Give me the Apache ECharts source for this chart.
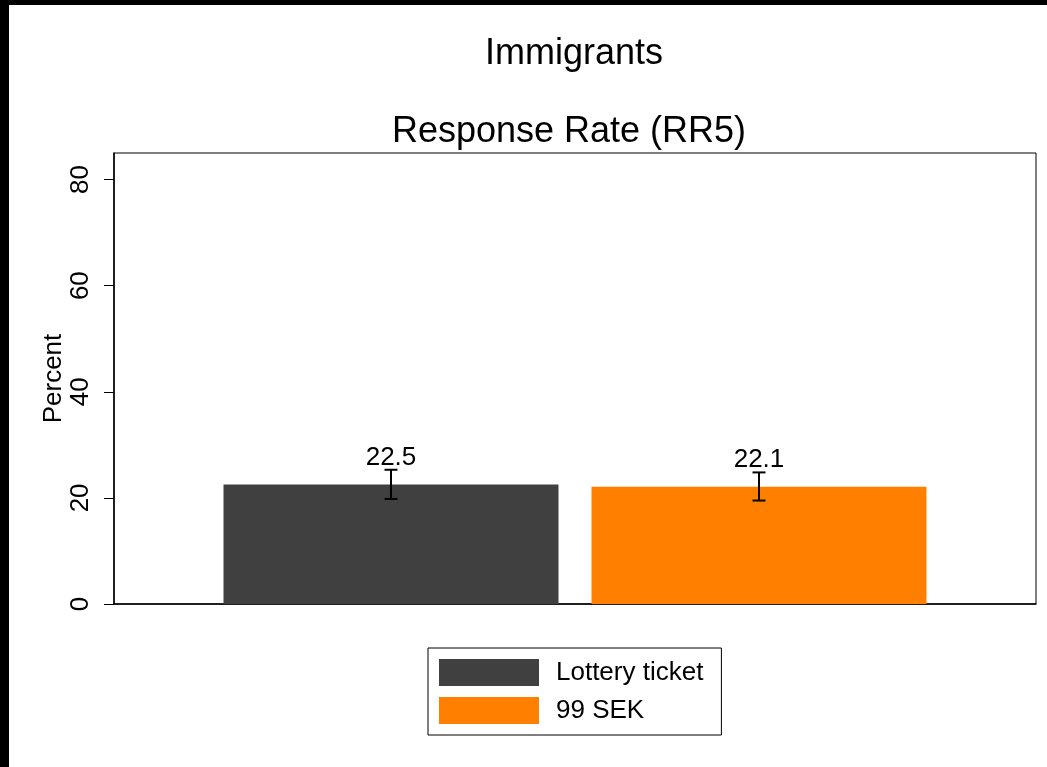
<!DOCTYPE html>
<html>
<head>
<meta charset="utf-8">
<style>
  html, body { margin: 0; padding: 0; background: #000; overflow: hidden; }
  #chart { position: absolute; left: 9px; top: 5px; width: 1038px; height: 762px; background: #fff; }
</style>
<script src="https://cdn.jsdelivr.net/npm/echarts@6/dist/echarts.min.js"></script>
</head>
<body>
<div id="chart"></div>
<script>
// Response rate (RR5) among immigrants, by incentive type
const categories = ['Immigrants'];
const seriesNames = ['Lottery ticket', '99 SEK'];
const rates = [22.5, 22.1];
const ciLow = [19.8, 19.5];
const ciHigh = [25.3, 24.8];
const yTicks = [0, 20, 40, 60, 80];

const colors = ['#404040', '#ff8000'];
const FONT = '"Liberation Sans", Arial, Helvetica, sans-serif';
const BAR_W = 335;
const BAR_GAP = 33;
const GRID = { left: 105, top: 148, right: 11, bottom: 163 };
const CHART_W = 1038;
const plotCenterX = GRID.left + (CHART_W - GRID.left - GRID.right) / 2;

const chart = echarts.init(document.getElementById('chart'), null, { renderer: 'canvas' });

const barSeries = seriesNames.map((name, i) => ({
  name: name,
  type: 'bar',
  data: [rates[i]],
  barWidth: BAR_W,
  barGap: (BAR_GAP / BAR_W * 100).toFixed(2) + '%',
  itemStyle: { color: colors[i] },
  label: {
    show: true,
    position: 'top',
    distance: 14,
    color: '#000',
    fontFamily: FONT,
    fontSize: 26,
    formatter: p => p.value.toFixed(1)
  },
  z: 2
}));

// confidence intervals drawn at each bar's centre
const ciData = seriesNames.map((_, i) => [0, ciLow[i], ciHigh[i], i]);

const ciSeries = {
  type: 'custom',
  name: 'ci',
  data: ciData,
  z: 5,
  silent: true,
  renderItem: function (params, api) {
    const lo = api.coord([api.value(0), api.value(1)]);
    const hi = api.coord([api.value(0), api.value(2)]);
    const slot = api.value(3);
    const n = seriesNames.length;
    const step = BAR_W + BAR_GAP;
    const x = lo[0] + (slot - (n - 1) / 2) * step;
    const cap = 6.5;
    const style = { stroke: '#000', lineWidth: 2 };
    return {
      type: 'group',
      children: [
        { type: 'line', shape: { x1: x, y1: lo[1], x2: x, y2: hi[1] }, style: style },
        { type: 'line', shape: { x1: x - cap, y1: lo[1], x2: x + cap, y2: lo[1] }, style: style },
        { type: 'line', shape: { x1: x - cap, y1: hi[1], x2: x + cap, y2: hi[1] }, style: style }
      ]
    };
  }
};

chart.setOption({
  backgroundColor: '#fff',
  animation: false,
  textStyle: { fontFamily: FONT },
  title: [
    {
      text: 'Immigrants',
      left: plotCenterX - 1,
      textAlign: 'center',
      top: 31,
      padding: 0,
      textStyle: { fontFamily: FONT, fontSize: 36, fontWeight: 'normal', color: '#000' }
    },
    {
      text: 'Response Rate (RR5)',
      left: plotCenterX - 6,
      textAlign: 'center',
      top: 109,
      padding: 0,
      textStyle: { fontFamily: FONT, fontSize: 36, fontWeight: 'normal', color: '#000' }
    }
  ],
  grid: {
    left: GRID.left,
    top: GRID.top,
    right: GRID.right,
    bottom: GRID.bottom,
    show: true,
    borderColor: '#000',
    borderWidth: 1,
    containLabel: false
  },
  legend: {
    data: seriesNames,
    orient: 'vertical',
    left: 419,
    top: 643,
    icon: 'rect',
    itemWidth: 100,
    itemHeight: 27,
    itemGap: 11,
    padding: [11, 18, 11, 11],
    borderColor: '#000',
    borderWidth: 1,
    textStyle: { fontFamily: FONT, fontSize: 26, color: '#000', padding: [0, 0, 0, 12] }
  },
  xAxis: {
    type: 'category',
    data: categories,
    axisLine: { show: true, lineStyle: { color: '#000', width: 1.5 } },
    axisTick: { show: false },
    axisLabel: { show: false }
  },
  yAxis: {
    type: 'value',
    min: 0,
    max: 85,
    name: 'Percent',
    nameLocation: 'middle',
    nameRotate: 90,
    nameGap: 47,
    nameMoveOverlap: false,
    nameTextStyle: { fontFamily: FONT, fontSize: 26, color: '#000' },
    axisLine: { show: true, lineStyle: { color: '#000', width: 1.5 } },
    axisTick: { show: true, length: 10, customValues: yTicks, lineStyle: { color: '#000', width: 1 } },
    axisLabel: {
      customValues: yTicks,
      rotate: 90,
      margin: 20,
      fontFamily: FONT,
      fontSize: 26,
      color: '#000'
    },
    splitLine: { show: false }
  },
  series: [...barSeries, ciSeries]
});
</script>
</body>
</html>
